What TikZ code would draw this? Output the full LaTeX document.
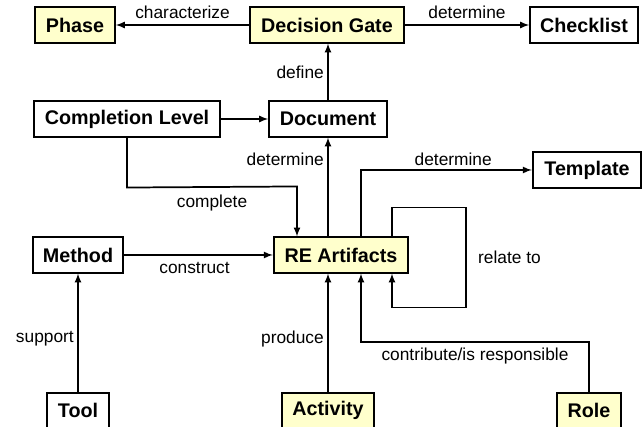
\documentclass[tikz,border=0pt]{standalone}
\usepackage{fontspec}
\setmainfont{Liberation Sans}
\usepackage{xcolor}
\usepackage{tikz}
\usetikzlibrary{shapes,arrows,positioning,calc}
\definecolor{gateyellow}{HTML}{FFFFCC}

\begin{document}
\begin{tikzpicture}[
            x=0.75pt, y=-0.75pt,
            box/.style={rectangle, draw, line width=1.3pt, fill=white, inner sep=0pt, minimum height=26.5pt, font=\fontsize{14.8}{16}\selectfont\bfseries},
            hilite/.style={box, fill=gateyellow},
            lbl/.style={font=\fontsize{13}{14}\selectfont, inner sep=2.5pt},
            rel/.style={-latex, line width=1.3pt}
        ]
            \useasboundingbox (0,0) rectangle (644,427);
            \node[hilite, minimum width=60pt] (phase) at (75,25) {Phase};
            \node[hilite, minimum width=115.5pt] (gate) at (327,25) {Decision Gate};
            \node[box, minimum width=81pt] (checklist) at (584,25) {Checklist};
            \node[box, minimum width=140pt] (level) at (127,119) {Completion Level};
            \node[box, minimum width=88.5pt] (document) at (328,119) {Document};
            \node[box, minimum width=81.5pt] (template) at (587,170) {Template};
            \node[box, minimum width=68pt] (method) at (78,255) {Method};
            \node[hilite, minimum width=101pt] (artifacts) at (341,255) {RE Artifacts};
            \node[box, minimum width=47pt] (tool) at (78,410.5) {Tool};
            \node[hilite, minimum width=69pt] (activity) at (328,410.5) {Activity};
            \node[hilite, minimum width=48pt] (role) at (589,410.5) {Role};

            \draw[rel] (gate) -- node[lbl, above, yshift=1.5pt] (characterize) {characterize} (phase);
            \draw[rel] (gate) -- node[lbl, above, yshift=1.5pt] (determinechk) {determine} (checklist);
            \draw[rel] (document.north) -- node[lbl, left] (define) {define} (document.north |- gate.south);
            \draw[rel] (level) -- (document);
            \draw[rel] (level.south) -- ++(0,50) -- node[lbl, below, yshift=-3pt] (complete) {complete} ($(artifacts.north)+(-44,-50)$) -- ($(artifacts.north)+(-44,0)$);
            \draw[rel] (method) -- node[lbl, below, xshift=-3pt, yshift=-2.5pt] (construct) {construct} (artifacts);
            \draw[rel] (artifacts.north -| document.south) -- node[lbl, left, pos=0.78] (determinedoc) {determine} (document.south);
            \draw[rel] ($(artifacts.north)+(20,0)$) |- node[lbl, above, pos=0.77] (determinetpl) {determine} (template.west);
            \draw[rel] ($(artifacts.north)+(51,0)$) -- ++(0,-29) -- ++(74,0) -- node[lbl, right, xshift=6pt] (relate) {relate to} ++(0,100) -- ++(-74,0) -- ($(artifacts.south)+(51,0)$);
            \draw[rel] (tool) -- node[lbl, left, pos=0.45] (support) {support} (method);
            \draw[rel] (activity.north) -- node[lbl, left, pos=0.45] (produce) {produce} (activity.north |- artifacts.south);
            \draw[rel] (role.north) -- ++(0,-50) -| node[lbl, below, pos=0.25, yshift=-1pt] (contribute) {contribute/is responsible} ($(artifacts.south)+(20,0)$);
        \end{tikzpicture}
\end{document}
